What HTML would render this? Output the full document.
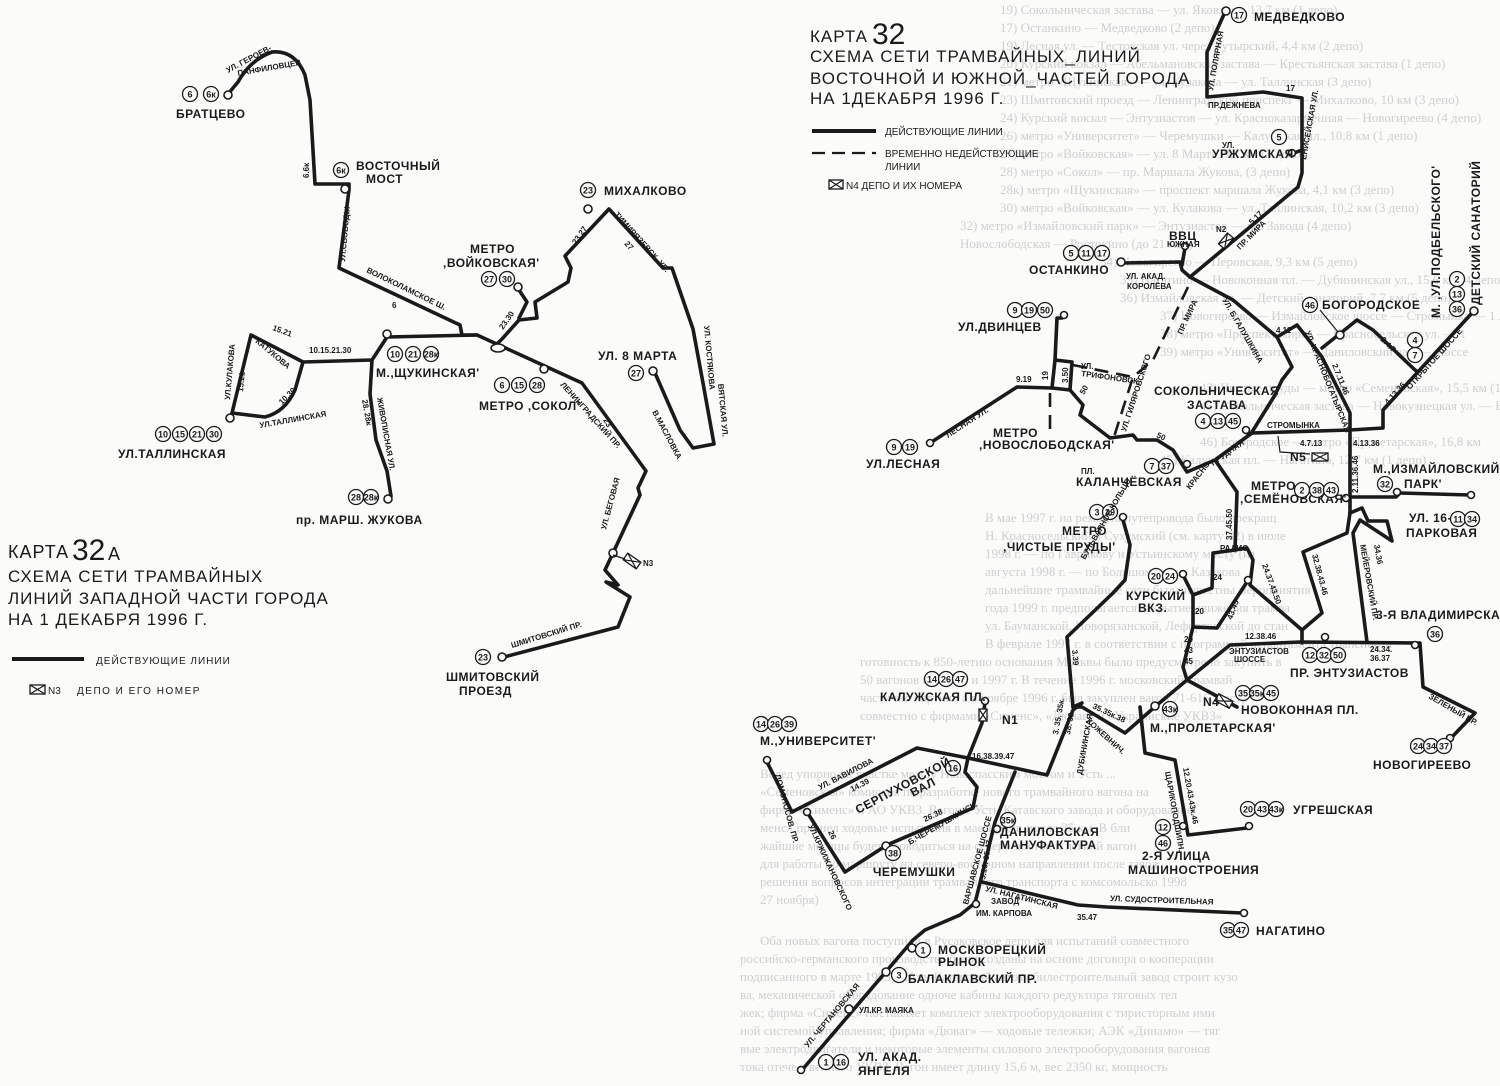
<!DOCTYPE html>
<html><head><meta charset="utf-8"><style>
html,body{margin:0;padding:0;background:#fbfbfa;}
svg{display:block}
text{font-family:"Liberation Sans","DejaVu Sans",sans-serif;fill:#1a1a1a}
.l{fill:none;stroke:#1a1a1a;stroke-width:3.6;stroke-linejoin:round;stroke-linecap:round}
.d{fill:none;stroke:#1a1a1a;stroke-width:2.6;stroke-dasharray:14 8}
.t{fill:none;stroke:#1a1a1a;stroke-width:1.2}
.c{fill:#fbfbfa;stroke:#1a1a1a;stroke-width:1.3}
.e{fill:#fbfbfa;stroke:#1a1a1a;stroke-width:1.6}
.n{font-size:9px;text-anchor:middle;font-weight:bold}
.lb{font-size:12px;font-weight:bold;letter-spacing:0.5px}
.sm{font-size:8px;font-weight:bold}
.bg text{font-family:"Liberation Serif",serif;font-size:13px;fill:#cfcfcf}
.ti{font-size:17px;letter-spacing:1px}
</style></head><body>
<svg width="1500" height="1086" viewBox="0 0 1500 1086" xmlns="http://www.w3.org/2000/svg">
<!-- faint background text -->
<g class="bg">
<text x="1000" y="14">19) Сокольническая застава — ул. Яковлева, 13,7 км (1 депо)</text>
<text x="1000" y="32">17) Останкино — Медведково (2 депо)</text>
<text x="1000" y="50">19) Лесная ул. — Тестовская ул. через Бутырский, 4,4 км (2 депо)</text>
<text x="1000" y="68">20) Курский вокзал — Абельмановская застава — Крестьянская застава (1 депо)</text>
<text x="1000" y="86">21) метро «Щукинская» — ул. Кулакова — ул. Таллинская (3 депо)</text>
<text x="1000" y="104">23) Шмитовский проезд — Ленинградский проспект — Михалково, 10 км (3 депо)</text>
<text x="1000" y="122">24) Курский вокзал — Энтузиастов — ул. Красноказарменная — Новогиреево (4 депо)</text>
<text x="1000" y="140">26) метро «Университет» — Черемушки — Калужская пл., 10,8 км (1 депо)</text>
<text x="1000" y="158">27) метро «Войковская» — ул. 8 Марта, 9,1 км (3 депо)</text>
<text x="1000" y="176">28) метро «Сокол» — пр. Маршала Жукова, (3 депо)</text>
<text x="1000" y="194">28к) метро «Щукинская» — проспект маршала Жукова, 4,1 км (3 депо)</text>
<text x="1000" y="212">30) метро «Войковская» — ул. Кулакова — ул. Таллинская, 10,2 км (3 депо)</text>
<text x="960" y="230">32) метро «Измайловский парк» — Энтузиастов — пл. Завода (4 депо)</text>
<text x="960" y="248">Новослободская — Ростокино (до 21 мая)</text>
<text x="1100" y="266">34) Новогиреево — Перовская, 9,3 км (5 депо)</text>
<text x="1120" y="284">35) Нагатино — Новоконная пл. — Дубининская ул., 15,6 км (4 депо)</text>
<text x="1120" y="302">36) Измайловская ул. — Детский санаторий, 7,7 км (5 депо)</text>
<text x="1160" y="320">37) Новогиреево — Измайловское шоссе — Стромынка — 1 л</text>
<text x="1160" y="338">38) метро «Проспект мира» — Красносельская ул. — 1</text>
<text x="1160" y="356">39) метро «Университет» — Даниловский вал — шоссе</text>
<text x="1200" y="392">43) Чистые пруды — метро «Семеновская», 15,5 км (1 депо)</text>
<text x="1200" y="410">45) Сокольническая застава — Новокузнецкая ул. — Воло</text>
<text x="1200" y="446">46) Богородское — метро «Пролетарская», 16,8 км</text>
<text x="1160" y="464">47) Калужская пл. — Нагатино, 12,7 км (1 депо)</text>
<text x="985" y="522">В мае 1997 г. на ремонта путепровода было прекращ</text>
<text x="985" y="540">Н. Красносельский в Сухумский (см. карту 32) в июле</text>
<text x="985" y="558">1998 г. — по Гаврикову и Устьинскому мосту (из</text>
<text x="985" y="576">августа 1998 г. — по Большому у ул. Казакова</text>
<text x="985" y="594">дальнейшие трамвайные сети была известны мероприятия</text>
<text x="985" y="612">года 1999 г. предполагается закрытие движения трамва</text>
<text x="985" y="630">ул. Бауманской, Новорязанской, Лефортовской до стан</text>
<text x="985" y="648">В феврале 1997 г. в соответствии с программой департамента транспорта</text>
<text x="860" y="666">готовность к 850-летию основания Москвы было предусмотрено закупить в</text>
<text x="860" y="684">50 вагонов в 1996 г. и 1997 г. В течение 1996 г. московский трамвай</text>
<text x="860" y="702">частично партию, а в ноябре 1996 г. был закуплен вагон 71-616, постр</text>
<text x="860" y="720">совместно с фирмами «Сименс», «Дюваг» и «Украинские УКВЗ»</text>
<text x="760" y="778">Вслед упорно на участке между Новоспасским мостом и Усть ...</text>
<text x="760" y="796">«Семеновская» комиссия по разработке нового трамвайного вагона на</text>
<text x="760" y="814">фирме «Сименс» и АО УКВЗ. Вагон с Усть-Катавского завода и оборудование</text>
<text x="760" y="832">менс» прошел ходовые испытания в мае 1996 г. после 35 км. В бли</text>
<text x="760" y="850">жайшие месяцы будет проводиться на северо-восток и лёгкий вагон</text>
<text x="760" y="868">для работы по маршруту на северо-восточном направлении после завод</text>
<text x="760" y="886">решения вопросов интеграции трамвайного транспорта с комсомольско 1998</text>
<text x="760" y="904">27 ноября)</text>
<text x="760" y="945">Оба новых вагона поступили в Русаковское депо для испытаний совместного</text>
<text x="740" y="963">российско-германского производства были созданы на основе договора о кооперации</text>
<text x="740" y="981">подписанного в марте 1993 г. Усть-Катавский автомобилестроительный завод строит кузо</text>
<text x="740" y="999">ва, механической оборудование одноче кабины каждого редуктора тяговых тел</text>
<text x="740" y="1017">жек; фирма «Сименс» поставляет комплект электрооборудования с тиристорным ими</text>
<text x="740" y="1035">ной системой управления; фирма «Дюваг» — ходовые тележки; АЭК «Динамо» — тяг</text>
<text x="740" y="1053">вые электродвигатели и некоторые элементы силового электрооборудования вагонов</text>
<text x="740" y="1071">тока отечественного УКВЗ. Вагон имеет длину 15,6 м, вес 2350 кг, мощность</text>
</g>

<!-- ================= LEFT MAP 32A ================= -->
<g>
<path class="l" d="M228,94 L238,82 Q250,60 272,52 Q295,50 305,75 L310,100 L315,184 L349,184 L349,190 L339,268 L460,325 L462,335 L477,335 L582,383 L646,471 L638,488 L640,495 L613,553 L605,570 L618,585 L606,582 L630,597 L618,627 L504,657"/>
<circle class="e" cx="228" cy="95" r="4"/>
<circle class="e" cx="345" cy="189" r="4"/>
<circle class="e" cx="502" cy="657" r="4"/>
<path class="l" d="M477,335 L387,337 L372,360 L303,362 L251,335 L232,413 L265,417 Q285,412 295,390 L303,362"/>
<circle class="e" cx="230" cy="418" r="4"/>
<path class="l" d="M372,360 L370,394 L376,440 L387,471 L391,496"/>
<circle class="e" cx="388" cy="499" r="4"/>
<circle class="e" cx="387" cy="334" r="4"/>
<path class="l" d="M496,345 L502,339 L519,320 L537,318 L535,302 L568,282 L571,268 L565,256 L609,209 L663,268 L672,268 L693,329 L703,383 L714,444 L693,448 L680,430 L655,373"/>
<path class="l" d="M519,318 L527,302 L519,290"/>
<circle class="e" cx="518" cy="287" r="4"/>
<circle class="e" cx="588" cy="209" r="4"/>
<circle class="e" cx="653" cy="371" r="4"/>
<circle class="e" cx="544" cy="369" r="4"/>
<ellipse class="e" cx="498" cy="348" rx="7" ry="4"/>
<circle class="e" cx="613" cy="553" r="4"/>
<g transform="translate(632,561) rotate(35)"><rect x="-8" y="-4" width="16" height="8" fill="#fbfbfa" stroke="#1a1a1a" stroke-width="1.3"/><path class="t" d="M-8,-4 L8,4 M-8,4 L8,-4"/></g>
<path class="t" d="M613,555 L625,559"/>
<text x="643" y="566" class="sm" font-size="9">N3</text>

<circle class="c" cx="190" cy="94" r="7.5"/><text x="190" y="97.5" class="n">6</text>
<circle class="c" cx="211" cy="94" r="7.5"/><text x="211" y="97.5" class="n">6к</text>
<text x="176" y="118" class="lb">БРАТЦЕВО</text>
<text x="228" y="73" class="sm" transform="rotate(-28 228 73)">УЛ. ГЕРОЕВ-</text>
<text x="238" y="76" class="sm" transform="rotate(-10 238 76)">ПАНФИЛОВЦЕВ</text>
<circle class="c" cx="341" cy="170" r="7.5"/><text x="341" y="173.5" class="n">6к</text>
<text x="356" y="170" class="lb">ВОСТОЧНЫЙ</text>
<text x="366" y="183" class="lb">МОСТ</text>
<text x="309" y="178" class="sm" transform="rotate(-90 309 178)">6.6к</text>
<text x="345" y="262" class="sm" transform="rotate(-85 345 262)">УЛ.СВОБОДЫ</text>
<text x="366" y="272" class="sm" transform="rotate(26 366 272)">ВОЛОКОЛАМСКОЕ Ш.</text>
<text x="392" y="308" class="sm">6</text>
<circle class="c" cx="588" cy="190" r="7.5"/><text x="588" y="193.5" class="n">23</text>
<text x="604" y="195" class="lb">МИХАЛКОВО</text>
<text x="614" y="215" class="sm" transform="rotate(48 614 215)">ТИМИРЯЗЕВСК. УЛ.</text>
<text x="624" y="244" class="sm" transform="rotate(48 624 244)">27</text>
<text x="576" y="245" class="sm" transform="rotate(-55 576 245)">23.27</text>
<text x="470" y="253" class="lb">МЕТРО</text>
<text x="443" y="267" class="lb">,ВОЙКОВСКАЯ'</text>
<circle class="c" cx="489" cy="279" r="7.5"/><text x="489" y="282.5" class="n">27</text>
<circle class="c" cx="507" cy="279" r="7.5"/><text x="507" y="282.5" class="n">30</text>
<text x="503" y="330" class="sm" transform="rotate(-55 503 330)">23.30</text>
<text x="704" y="326" class="sm" transform="rotate(85 704 326)">УЛ. КОСТЯКОВА</text>
<text x="718" y="384" class="sm" transform="rotate(85 718 384)">ВЯТСКАЯ УЛ.</text>
<text x="652" y="412" class="sm" transform="rotate(62 652 412)">В.МАСЛОВКА</text>
<text x="598" y="360" class="lb">УЛ. 8 МАРТА</text>
<circle class="c" cx="636" cy="373" r="7.5"/><text x="636" y="376.5" class="n">27</text>
<circle class="c" cx="395" cy="354" r="7.5"/><text x="395" y="357.5" class="n">10</text>
<circle class="c" cx="413" cy="354" r="7.5"/><text x="413" y="357.5" class="n">21</text>
<circle class="c" cx="431" cy="354" r="7.5"/><text x="431" y="357.5" class="n">28к</text>
<text x="376" y="377" class="lb">М.,ЩУКИНСКАЯ'</text>
<circle class="c" cx="502" cy="385" r="7.5"/><text x="502" y="388.5" class="n">6</text>
<circle class="c" cx="519" cy="385" r="7.5"/><text x="519" y="388.5" class="n">15</text>
<circle class="c" cx="537" cy="385" r="7.5"/><text x="537" y="388.5" class="n">28</text>
<text x="479" y="410" class="lb">МЕТРО ,СОКОЛ'</text>
<text x="560" y="385" class="sm" transform="rotate(48 560 385)">ЛЕНИНГРАДСКИЙ ПР.</text>
<text x="603" y="420" class="sm" transform="rotate(60 603 420)">23</text>
<text x="309" y="353" class="sm">10.15.21.30</text>
<text x="272" y="330" class="sm" transform="rotate(20 272 330)">15.21</text>
<text x="255" y="342" class="sm" transform="rotate(40 255 342)">КАТУКОВА</text>
<text x="230" y="400" class="sm" transform="rotate(-85 230 400)">УЛ.КУЛАКОВА</text>
<text x="243" y="392" class="sm" transform="rotate(-85 243 392)">15.21</text>
<text x="260" y="428" class="sm" transform="rotate(-10 260 428)">УЛ.ТАЛЛИНСКАЯ</text>
<text x="282" y="405" class="sm" transform="rotate(-45 282 405)">10.30</text>
<circle class="c" cx="163" cy="434" r="7.5"/><text x="163" y="437.5" class="n">10</text>
<circle class="c" cx="180" cy="434" r="7.5"/><text x="180" y="437.5" class="n">15</text>
<circle class="c" cx="197" cy="434" r="7.5"/><text x="197" y="437.5" class="n">21</text>
<circle class="c" cx="214" cy="434" r="7.5"/><text x="214" y="437.5" class="n">30</text>
<text x="118" y="458" class="lb">УЛ.ТАЛЛИНСКАЯ</text>
<text x="362" y="400" class="sm" transform="rotate(80 362 400)">28. 28к</text>
<text x="377" y="398" class="sm" transform="rotate(80 377 398)">ЖИВОПИСНАЯ УЛ.</text>
<circle class="c" cx="356" cy="497" r="7.5"/><text x="356" y="500.5" class="n">28</text>
<circle class="c" cx="371" cy="497" r="7.5"/><text x="371" y="500.5" class="n">28к</text>
<text x="296" y="524" class="lb" font-size="11">пр. МАРШ. ЖУКОВА</text>
<text x="606" y="530" class="sm" transform="rotate(-75 606 530)">УЛ. БЕГОВАЯ</text>
<text x="512" y="648" class="sm" transform="rotate(-17 512 648)">ШМИТОВСКИЙ ПР.</text>
<circle class="c" cx="483" cy="657" r="7.5"/><text x="483" y="660.5" class="n">23</text>
<text x="446" y="681" class="lb">ШМИТОВСКИЙ</text>
<text x="459" y="695" class="lb">ПРОЕЗД</text>

<text x="8" y="558" font-size="18" letter-spacing="1">КАРТА</text>
<text x="72" y="560" font-size="30" font-weight="normal">32</text><text x="108" y="560" font-size="18">А</text>
<text x="8" y="582" class="ti">СХЕМА  СЕТИ  ТРАМВАЙНЫХ</text>
<text x="8" y="604" class="ti">ЛИНИЙ  ЗАПАДНОЙ  ЧАСТИ ГОРОДА</text>
<text x="8" y="625" class="ti">НА  1 ДЕКАБРЯ  1996 Г.</text>
<path d="M12,659 L84,659" stroke="#1a1a1a" stroke-width="4"/>
<text x="96" y="664" font-size="10" letter-spacing="1">ДЕЙСТВУЮЩИЕ ЛИНИИ</text>
<rect x="30" y="685" width="15" height="9" fill="none" stroke="#1a1a1a" stroke-width="1.3"/><path class="t" d="M30,685 L45,694 M30,694 L45,685"/>
<text x="48" y="694" font-size="10">N3</text>
<text x="77" y="694" font-size="10" letter-spacing="1.5">ДЕПО  И  ЕГО  НОМЕР</text>
</g>

<!-- ================= RIGHT MAP 32 ================= -->
<g>
<text x="810" y="42" font-size="17" letter-spacing="1">КАРТА</text>
<text x="872" y="44" font-size="30">32</text>
<text x="810" y="62" class="ti">СХЕМА СЕТИ ТРАМВАЙНЫХ_ЛИНИЙ</text>
<text x="810" y="84" class="ti">ВОСТОЧНОЙ И ЮЖНОЙ_ЧАСТЕЙ ГОРОДА</text>
<text x="810" y="104" class="ti">НА 1ДЕКАБРЯ  1996 Г.</text>
<path d="M812,131 L876,131" stroke="#1a1a1a" stroke-width="4"/>
<text x="885" y="135" font-size="10">ДЕЙСТВУЮЩИЕ ЛИНИИ</text>
<path d="M812,153 L876,153" stroke="#1a1a1a" stroke-width="2.2" stroke-dasharray="13 7"/>
<text x="885" y="157" font-size="10">ВРЕМЕННО  НЕДЕЙСТВУЮЩИЕ</text>
<text x="885" y="170" font-size="10">ЛИНИИ</text>
<rect x="829" y="180" width="14" height="9" fill="none" stroke="#1a1a1a" stroke-width="1.3"/><path class="t" d="M829,180 L843,189 M829,189 L843,180"/>
<text x="846" y="189" font-size="10">N4   ДЕПО И ИХ НОМЕРА</text>

<path class="l" d="M1225,12 L1207,52 L1207,97 L1263,92 L1302,98 L1302,173 L1298,187 L1190,277"/>
<circle class="e" cx="1226" cy="11" r="4"/>
<path class="l" d="M1302,150 L1294,153"/><circle class="e" cx="1292" cy="153" r="3.5"/>
<path class="l" d="M1122,263 L1180,262 L1182,270 L1190,277"/>
<circle class="e" cx="1121" cy="262" r="4"/>
<path class="l" d="M1185,248 L1182,265"/><circle class="e" cx="1185" cy="246" r="3.5"/>
<g transform="translate(1226,241) rotate(-50)"><rect x="-7" y="-4" width="14" height="8" fill="#fbfbfa" stroke="#1a1a1a" stroke-width="1.3"/><path class="t" d="M-7,-4 L7,4 M-7,4 L7,-4"/></g>
<path class="l" d="M1190,277 L1233,300 L1277,337 L1292,367 L1282,380 L1275,395 L1252,432"/>
<path class="l" d="M1277,337 L1297,325 L1322,357 L1350,413 L1350,513"/>
<path class="l" d="M1248,434 L1252,433 L1350,430 L1383,428 L1383,410 L1472,313"/>
<circle class="e" cx="1474" cy="311" r="4"/>
<circle class="e" cx="1246" cy="430" r="3.5"/>
<path class="l" d="M1322,348 L1357,320 L1373,330 L1415,370 L1418,372"/>
<circle class="e" cx="1340" cy="335" r="4"/>
<path class="t" d="M1320,310 L1338,332"/>
<path class="l" d="M930,443 L1017,387 L1052,388 L1070,390 L1072,362 L1055,360 L1057,318 L1062,318"/>
<circle class="e" cx="1064" cy="315" r="3.5"/>
<circle class="e" cx="930" cy="443" r="3.5"/>
<path class="l" d="M1052,388 L1055,360"/>
<path class="l" d="M1070,390 L1083,405 L1080,415 L1110,438 L1133,435 L1137,440 L1157,440 L1173,450 L1187,472 L1215,460 L1252,433"/>
<circle class="e" cx="1187" cy="464" r="3.5"/>
<path class="d" d="M1050,393 L1050,430 L1055,432"/>
<path class="d" d="M1188,287 L1153,360 L1133,377 L1113,440"/>
<path class="d" d="M1073,365 L1133,377"/>
<path class="l" d="M1215,460 L1237,492 L1235,550 L1213,553 L1212,588 L1193,595 L1193,627 L1183,667 L1187,680"/>
<path class="l" d="M1183,575 L1193,595"/><circle class="e" cx="1183" cy="574" r="3.5"/>
<path class="l" d="M1350,513 L1347,533 L1303,552 L1322,613 L1302,630 L1250,585 L1253,560 L1247,548 L1235,550"/>
<path class="l" d="M1350,513 L1362,508 L1368,521 L1387,521 L1392,541 L1360,520 L1353,533 L1367,642"/>
<path class="l" d="M1302,630 L1302,643"/>
<path class="l" d="M1193,627 L1217,628 L1247,582"/><circle class="e" cx="1248" cy="580" r="3.5"/>
<path class="l" d="M1347,497 L1396,497 L1400,493 L1470,495"/>
<circle class="e" cx="1397" cy="492" r="3.5"/><circle class="e" cx="1471" cy="495" r="3.5"/>
<circle class="e" cx="1346" cy="498" r="3.5"/>
<path class="l" d="M1187,680 L1230,645 L1300,642 L1420,643 L1423,687 L1475,713 L1452,737"/>
<circle class="e" cx="1450" cy="738" r="3.5"/>
<circle class="e" cx="1325" cy="637" r="3.5"/>
<circle class="e" cx="1415" cy="645" r="3.5"/>
<path class="l" d="M1187,680 L1237,707"/>
<g transform="translate(1224,701) rotate(28)"><rect x="-8" y="-4" width="16" height="8" fill="#fbfbfa" stroke="#1a1a1a" stroke-width="1.3"/><path class="t" d="M-8,-4 L8,4 M-8,4 L8,-4"/></g>
<path class="l" d="M1123,520 L1130,545 L1125,580 L1113,593 L1067,637 L1073,707 L1082,707 L1125,733 L1157,705 L1187,680"/>
<circle class="e" cx="1123" cy="517" r="3.5"/>
<circle class="e" cx="1155" cy="706" r="4"/>
<path class="l" d="M1140,707 L1145,753 L1175,760 L1188,835 L1247,828"/>
<circle class="e" cx="1249" cy="826" r="3.5"/>
<circle class="e" cx="1183" cy="826" r="3.5"/>
<path class="l" d="M1073,707 L1082,703 L1073,710 L1047,775 L968,758 L982,723 L985,703"/>
<circle class="e" cx="985" cy="701" r="3.5"/>
<g transform="translate(983,715)"><rect x="-4" y="-6" width="8" height="12" fill="#fbfbfa" stroke="#1a1a1a" stroke-width="1.3"/><path class="t" d="M-4,-6 L4,6 M-4,6 L4,-6"/></g>
<path class="l" d="M968,758 L917,748 L792,812 L767,762"/>
<circle class="e" cx="767" cy="760" r="3.5"/>
<path class="l" d="M968,758 L965,772 L977,787 L973,808 L887,845 L845,872 L807,812"/>
<circle class="e" cx="886" cy="846" r="4"/>
<circle class="e" cx="807" cy="812" r="3.5"/>
<path class="l" d="M1015,772 L995,822 L980,883 L975,903 L960,915 L925,930 L913,940 L802,1070"/>
<circle class="e" cx="997" cy="829" r="3.5"/>
<circle class="e" cx="976" cy="904" r="3.5"/>
<circle class="e" cx="912" cy="948" r="4"/><circle class="e" cx="886" cy="972" r="4"/><circle class="e" cx="849" cy="1009" r="4"/>
<circle class="e" cx="801" cy="1070" r="3.5"/>
<path class="l" d="M982,882 L1078,905 L1107,907 L1242,913"/>
<circle class="e" cx="1244" cy="913" r="3.5"/>

<circle class="c" cx="1239" cy="15" r="7.5"/><text x="1239" y="18.5" class="n">17</text>
<text x="1254" y="21" class="lb">МЕДВЕДКОВО</text>
<text x="1213" y="91" class="sm" transform="rotate(-80 1213 91)">УЛ. ПОЛЯРНАЯ</text>
<text x="1208" y="108" class="sm">ПР.ДЕЖНЕВА</text>
<text x="1286" y="91" class="sm">17</text>
<text x="1306" y="160" class="sm" transform="rotate(-80 1306 160)">ЕНИСЕЙСКАЯ УЛ.</text>
<circle class="c" cx="1279" cy="137" r="7.5"/><text x="1279" y="140.5" class="n">5</text>
<text x="1222" y="148" class="sm" font-size="9">УЛ.</text>
<text x="1212" y="158" class="lb">УРЖУМСКАЯ</text>
<text x="1252" y="225" class="sm" transform="rotate(-45 1252 225)">5.17</text>
<text x="1240" y="250" class="sm" transform="rotate(-45 1240 250)">ПР. МИРА</text>
<text x="1216" y="232" class="sm" font-size="9">N2</text>
<text x="1169" y="240" class="lb" font-size="10">ВВЦ</text>
<text x="1167" y="247" class="sm" font-size="6">ЮЖНАЯ</text>
<circle class="c" cx="1071" cy="253" r="7.5"/><text x="1071" y="256.5" class="n">5</text>
<circle class="c" cx="1086" cy="253" r="7.5"/><text x="1086" y="256.5" class="n">11</text>
<circle class="c" cx="1102" cy="253" r="7.5"/><text x="1102" y="256.5" class="n">17</text>
<text x="1029" y="274" class="lb">ОСТАНКИНО</text>
<text x="1126" y="279" class="sm">УЛ. АКАД.</text>
<text x="1127" y="289" class="sm">КОРОЛЁВА</text>
<text x="1222" y="300" class="sm" transform="rotate(60 1222 300)">УЛ. Б.ГАЛУШКИНА</text>
<text x="1182" y="335" class="sm" transform="rotate(-65 1182 335)">ПР. МИРА</text>
<circle class="c" cx="1015" cy="310" r="7.5"/><text x="1015" y="313.5" class="n">9</text>
<circle class="c" cx="1029" cy="310" r="7.5"/><text x="1029" y="313.5" class="n">19</text>
<circle class="c" cx="1045" cy="310" r="7.5"/><text x="1045" y="313.5" class="n">50</text>
<text x="958" y="331" class="lb">УЛ.ДВИНЦЕВ</text>
<circle class="c" cx="1310" cy="305" r="7.5"/><text x="1310" y="308.5" class="n">46</text>
<text x="1322" y="309" class="lb">БОГОРОДСКОЕ</text>
<circle class="c" cx="1457" cy="279" r="7.5"/><text x="1457" y="282.5" class="n">2</text>
<circle class="c" cx="1457" cy="294" r="7.5"/><text x="1457" y="297.5" class="n">13</text>
<circle class="c" cx="1457" cy="309" r="7.5"/><text x="1457" y="312.5" class="n">36</text>
<text x="1480" y="305" class="lb" transform="rotate(-90 1480 305)">ДЕТСКИЙ САНАТОРИЙ</text>
<text x="1440" y="318" class="lb" font-size="11" transform="rotate(-90 1440 318)">М. ,УЛ.ПОДБЕЛЬСКОГО'</text>
<circle class="c" cx="1415" cy="340" r="7.5"/><text x="1415" y="343.5" class="n">4</text>
<circle class="c" cx="1415" cy="355" r="7.5"/><text x="1415" y="358.5" class="n">7</text>
<text x="1380" y="340" class="sm" transform="rotate(45 1380 340)">2.4.7</text>
<text x="1410" y="390" class="sm" transform="rotate(-48 1410 390)">ОТКРЫТОЕ ШОССЕ</text>
<text x="1388" y="405" class="sm" transform="rotate(-48 1388 405)">4.13.36</text>
<text x="1305" y="332" class="sm" transform="rotate(68 1305 332)">УЛ. КРАСНОБОГАТЫРСКАЯ</text>
<text x="1332" y="365" class="sm" transform="rotate(68 1332 365)">2.7.11.46</text>
<text x="1276" y="333" class="sm">4.11</text>
<text x="1154" y="395" class="lb" font-size="13">СОКОЛЬНИЧЕСКАЯ</text>
<text x="1187" y="409" class="lb" font-size="13">ЗАСТАВА</text>
<circle class="c" cx="1203" cy="421" r="7.5"/><text x="1203" y="424.5" class="n">4</text>
<circle class="c" cx="1218" cy="421" r="7.5"/><text x="1218" y="424.5" class="n">13</text>
<circle class="c" cx="1233" cy="421" r="7.5"/><text x="1233" y="424.5" class="n">45</text>
<text x="1267" y="428" class="sm">СТРОМЫНКА</text>
<text x="1300" y="446" class="sm">4.7.13</text>
<text x="1353" y="446" class="sm">4.13.36</text>
<text x="1290" y="461" class="lb" font-size="11">N5</text>
<g transform="translate(1320,457)"><rect x="-8" y="-4" width="16" height="8" fill="#fbfbfa" stroke="#1a1a1a" stroke-width="1.3"/><path class="t" d="M-8,-4 L8,4 M-8,4 L8,-4"/></g>
<path class="t" d="M1278,436 L1280,452 L1310,454"/>
<circle class="c" cx="894" cy="447" r="7.5"/><text x="894" y="450.5" class="n">9</text>
<circle class="c" cx="910" cy="447" r="7.5"/><text x="910" y="450.5" class="n">19</text>
<text x="866" y="468" class="lb">УЛ.ЛЕСНАЯ</text>
<text x="948" y="438" class="sm" transform="rotate(-33 948 438)">ЛЕСНАЯ УЛ.</text>
<text x="1016" y="382" class="sm">9.19</text>
<text x="1048" y="380" class="sm" transform="rotate(-90 1048 380)">19</text>
<text x="1068" y="383" class="sm" transform="rotate(-90 1068 383)">3.50</text>
<text x="1084" y="395" class="sm" transform="rotate(-60 1084 395)">50</text>
<text x="1156" y="437" class="sm" transform="rotate(25 1156 437)">50</text>
<text x="1081" y="369" class="sm" font-size="7">УЛ.</text>
<text x="1081" y="376" class="sm" font-size="7" transform="rotate(8 1081 376)">ТРИФОНОВСК.</text>
<text x="1126" y="432" class="sm" transform="rotate(-72 1126 432)">УЛ. ГИЛЯРОВСКОГО</text>
<text x="993" y="437" class="lb" font-size="10">МЕТРО</text>
<text x="979" y="449" class="lb" font-size="10">,НОВОСЛОБОДСКАЯ'</text>
<circle class="c" cx="1152" cy="466" r="7.5"/><text x="1152" y="469.5" class="n">7</text>
<circle class="c" cx="1166" cy="466" r="7.5"/><text x="1166" y="469.5" class="n">37</text>
<text x="1081" y="474" class="sm" font-size="9">ПЛ.</text>
<text x="1076" y="486" class="lb">КАЛАНЧЁВСКАЯ</text>
<text x="1190" y="490" class="sm" transform="rotate(-52 1190 490)">КРАСНО-</text>
<text x="1213" y="466" class="sm" transform="rotate(-35 1213 466)">ПРУДНАЯ</text>
<text x="1251" y="490" class="lb" font-size="11">МЕТРО</text>
<text x="1240" y="503" class="lb" font-size="11">,СЕМЁНОВСКАЯ'</text>
<circle class="c" cx="1302" cy="490" r="7.5"/><text x="1302" y="493.5" class="n">2</text>
<circle class="c" cx="1317" cy="490" r="7.5"/><text x="1317" y="493.5" class="n">38</text>
<circle class="c" cx="1331" cy="490" r="7.5"/><text x="1331" y="493.5" class="n">43</text>
<text x="1358" y="493" class="sm" transform="rotate(-90 1358 493)">2.11.36.46</text>
<text x="1373" y="473" class="lb">М.,ИЗМАЙЛОВСКИЙ</text>
<circle class="c" cx="1385" cy="484" r="7.5"/><text x="1385" y="487.5" class="n">32</text>
<text x="1404" y="488" class="lb">ПАРК'</text>
<text x="1409" y="522" class="lb">УЛ. 16-Я</text>
<text x="1406" y="537" class="lb">ПАРКОВАЯ</text>
<circle class="c" cx="1458" cy="519" r="7.5"/><text x="1458" y="522.5" class="n">11</text>
<circle class="c" cx="1472" cy="519" r="7.5"/><text x="1472" y="522.5" class="n">34</text>
<circle class="c" cx="1097" cy="512" r="7.5"/><text x="1097" y="515.5" class="n">3</text>
<circle class="c" cx="1110" cy="512" r="7.5"/><text x="1110" y="515.5" class="n">39</text>
<text x="1062" y="535" class="lb">МЕТРО</text>
<text x="1003" y="551" class="lb">,ЧИСТЫЕ  ПРУДЫ'</text>
<text x="1232" y="540" class="sm" transform="rotate(-90 1232 540)">37.45.50</text>
<text x="1220" y="551" class="sm" font-size="7">РАДИО</text>
<circle class="c" cx="1156" cy="576" r="7.5"/><text x="1156" y="579.5" class="n">20</text>
<circle class="c" cx="1170" cy="576" r="7.5"/><text x="1170" y="579.5" class="n">24</text>
<text x="1126" y="600" class="lb">КУРСКИЙ</text>
<text x="1138" y="612" class="lb">ВКЗ.</text>
<text x="1213" y="580" class="sm">24</text>
<text x="1195" y="614" class="sm">20</text>
<text x="1184" y="642" class="sm">20</text><text x="1184" y="653" class="sm">43</text><text x="1184" y="664" class="sm">45</text>
<text x="1232" y="620" class="sm" transform="rotate(-70 1232 620)">43.45</text>
<text x="1262" y="565" class="sm" transform="rotate(70 1262 565)">24.37.43.50</text>
<text x="1312" y="555" class="sm" transform="rotate(75 1312 555)">32.38.43.46</text>
<text x="1360" y="545" class="sm" transform="rotate(80 1360 545)">МЕЙЕРОВСКИЙ ПР.</text>
<text x="1374" y="545" class="sm" transform="rotate(80 1374 545)">34.36</text>
<text x="1085" y="560" class="sm" transform="rotate(-60 1085 560)">БУЛЬВАРНОЕ КОЛЬЦО</text>
<text x="1072" y="650" class="sm" transform="rotate(85 1072 650)">3.39</text>
<text x="1376" y="619" class="lb">3-Я ВЛАДИМИРСКАЯ</text>
<circle class="c" cx="1435" cy="634" r="7.5"/><text x="1435" y="637.5" class="n">36</text>
<text x="1245" y="639" class="sm">12.38.46</text>
<text x="1229" y="654" class="sm" font-size="7">ЭНТУЗИАСТОВ</text>
<text x="1234" y="662" class="sm" font-size="7">ШОССЕ</text>
<circle class="c" cx="1310" cy="655" r="7.5"/><text x="1310" y="658.5" class="n">12</text>
<circle class="c" cx="1324" cy="655" r="7.5"/><text x="1324" y="658.5" class="n">32</text>
<circle class="c" cx="1338" cy="655" r="7.5"/><text x="1338" y="658.5" class="n">50</text>
<text x="1290" y="677" class="lb">ПР. ЭНТУЗИАСТОВ</text>
<text x="1370" y="652" class="sm">24.34.</text><text x="1370" y="661" class="sm">36.37</text>
<text x="1428" y="698" class="sm" font-size="7" transform="rotate(30 1428 698)">ЗЕЛЕНЫЙ ПР.</text>
<circle class="c" cx="932" cy="679" r="7.5"/><text x="932" y="682.5" class="n">14</text>
<circle class="c" cx="946" cy="679" r="7.5"/><text x="946" y="682.5" class="n">26</text>
<circle class="c" cx="960" cy="679" r="7.5"/><text x="960" y="682.5" class="n">47</text>
<text x="880" y="701" class="lb">КАЛУЖСКАЯ ПЛ.</text>
<circle class="c" cx="1243" cy="693" r="7.5"/><text x="1243" y="696.5" class="n">35</text>
<circle class="c" cx="1257" cy="693" r="7.5"/><text x="1257" y="696.5" class="n">35к</text>
<circle class="c" cx="1271" cy="693" r="7.5"/><text x="1271" y="696.5" class="n">45</text>
<text x="1203" y="706" class="lb" font-size="11">N4</text>
<text x="1241" y="714" class="lb">НОВОКОННАЯ ПЛ.</text>
<circle class="c" cx="1170" cy="709" r="7.5"/><text x="1170" y="712.5" class="n">43к</text>
<text x="1150" y="732" class="lb">М.,ПРОЛЕТАРСКАЯ'</text>
<text x="1092" y="708" class="sm" transform="rotate(25 1092 708)">35.35к.38</text>
<text x="1086" y="722" class="sm" transform="rotate(42 1086 722)">КОЖЕВНИЧ.</text>
<text x="1058" y="735" class="sm" transform="rotate(-80 1058 735)">3. 35. 35к.</text>
<text x="1070" y="735" class="sm" transform="rotate(-80 1070 735)">38. 39</text>
<text x="1082" y="775" class="sm" transform="rotate(-80 1082 775)">ДУБИНИНСКАЯ</text>
<circle class="c" cx="1418" cy="746" r="7.5"/><text x="1418" y="749.5" class="n">24</text>
<circle class="c" cx="1431" cy="746" r="7.5"/><text x="1431" y="749.5" class="n">34</text>
<circle class="c" cx="1444" cy="746" r="7.5"/><text x="1444" y="749.5" class="n">37</text>
<text x="1373" y="769" class="lb">НОВОГИРЕЕВО</text>
<circle class="c" cx="761" cy="724" r="7.5"/><text x="761" y="727.5" class="n">14</text>
<circle class="c" cx="775" cy="724" r="7.5"/><text x="775" y="727.5" class="n">26</text>
<circle class="c" cx="789" cy="724" r="7.5"/><text x="789" y="727.5" class="n">39</text>
<text x="760" y="745" class="lb">М.,УНИВЕРСИТЕТ'</text>
<text x="1002" y="724" class="lb" font-size="10">N1</text>
<text x="972" y="759" class="sm" font-size="7">16.38.39.47</text>
<circle class="c" cx="953" cy="768" r="7.5"/><text x="953" y="771.5" class="n">16</text>
<text x="858" y="814" class="lb" transform="rotate(-28 858 814)">СЕРПУХОВСКОЙ</text>
<text x="913" y="797" class="lb" transform="rotate(-28 913 797)">ВАЛ</text>
<text x="820" y="790" class="sm" transform="rotate(-27 820 790)">УЛ. ВАВИЛОВА</text>
<text x="852" y="792" class="sm" transform="rotate(-27 852 792)">14.39</text>
<text x="925" y="822" class="sm" transform="rotate(-25 925 822)">26.38</text>
<text x="910" y="845" class="sm" transform="rotate(-30 910 845)">Б.ЧЕРЕМУШКИНСК.</text>
<text x="775" y="775" class="sm" transform="rotate(75 775 775)">ЛОМОНОСОВ. ПР.</text>
<text x="808" y="826" class="sm" transform="rotate(65 808 826)">УЛ.КРЖИЖАНОВСКОГО</text>
<text x="828" y="832" class="sm" transform="rotate(65 828 832)">26</text>
<circle class="c" cx="893" cy="853" r="7.5"/><text x="893" y="856.5" class="n">38</text>
<text x="873" y="876" class="lb">ЧЕРЕМУШКИ</text>
<circle class="c" cx="1008" cy="820" r="7.5"/><text x="1008" y="823.5" class="n">35к</text>
<text x="1000" y="836" class="lb">ДАНИЛОВСКАЯ</text>
<text x="1000" y="849" class="lb">МАНУФАКТУРА</text>
<text x="1165" y="772" class="sm" font-size="7" transform="rotate(80 1165 772)">ЩАРИКОПОДШИПН.</text>
<text x="1183" y="768" class="sm" font-size="7" transform="rotate(80 1183 768)">12.20.43.43к.46</text>
<circle class="c" cx="1248" cy="809" r="7.5"/><text x="1248" y="812.5" class="n">20</text>
<circle class="c" cx="1262" cy="809" r="7.5"/><text x="1262" y="812.5" class="n">43</text>
<circle class="c" cx="1276" cy="809" r="7.5"/><text x="1276" y="812.5" class="n">43к</text>
<text x="1293" y="814" class="lb">УГРЕШСКАЯ</text>
<circle class="c" cx="1163" cy="827" r="7.5"/><text x="1163" y="830.5" class="n">12</text>
<circle class="c" cx="1163" cy="843" r="7.5"/><text x="1163" y="846.5" class="n">46</text>
<text x="1142" y="860" class="lb" font-size="13">2-Я УЛИЦА</text>
<text x="1128" y="874" class="lb">МАШИНОСТРОЕНИЯ</text>
<text x="985" y="880" class="sm" font-size="7" transform="rotate(-80 985 880)">3.16. 35.47</text>
<text x="968" y="905" class="sm" transform="rotate(-75 968 905)">ВАРШАВСКОЕ ШОССЕ</text>
<text x="985" y="891" class="sm" transform="rotate(14 985 891)">УЛ. НАГАТИНСКАЯ</text>
<text x="1110" y="901" class="sm" transform="rotate(2 1110 901)">УЛ. СУДОСТРОИТЕЛЬНАЯ</text>
<text x="1077" y="920" class="sm">35.47</text>
<text x="991" y="904" class="sm">ЗАВОД</text>
<text x="976" y="916" class="sm">ИМ. КАРПОВА</text>
<circle class="c" cx="1228" cy="930" r="7.5"/><text x="1228" y="933.5" class="n">35</text>
<circle class="c" cx="1241" cy="930" r="7.5"/><text x="1241" y="933.5" class="n">47</text>
<text x="1256" y="935" class="lb">НАГАТИНО</text>
<circle class="c" cx="923" cy="950" r="7.5"/><text x="923" y="953.5" class="n">1</text>
<text x="938" y="954" class="lb">МОСКВОРЕЦКИЙ</text>
<text x="938" y="966" class="lb">РЫНОК</text>
<circle class="c" cx="899" cy="975" r="7.5"/><text x="899" y="978.5" class="n">3</text>
<text x="908" y="983" class="lb">БАЛАКЛАВСКИЙ ПР.</text>
<text x="859" y="1013" class="sm" font-size="9">УЛ.КР. МАЯКА</text>
<text x="808" y="1048" class="sm" transform="rotate(-50 808 1048)">УЛ. ЧЕРТАНОВСКАЯ</text>
<circle class="c" cx="826" cy="1062" r="7.5"/><text x="826" y="1065.5" class="n">1</text>
<circle class="c" cx="841" cy="1062" r="7.5"/><text x="841" y="1065.5" class="n">16</text>
<text x="858" y="1061" class="lb">УЛ. АКАД.</text>
<text x="858" y="1075" class="lb">ЯНГЕЛЯ</text>
</g>
</svg>
</body></html>
